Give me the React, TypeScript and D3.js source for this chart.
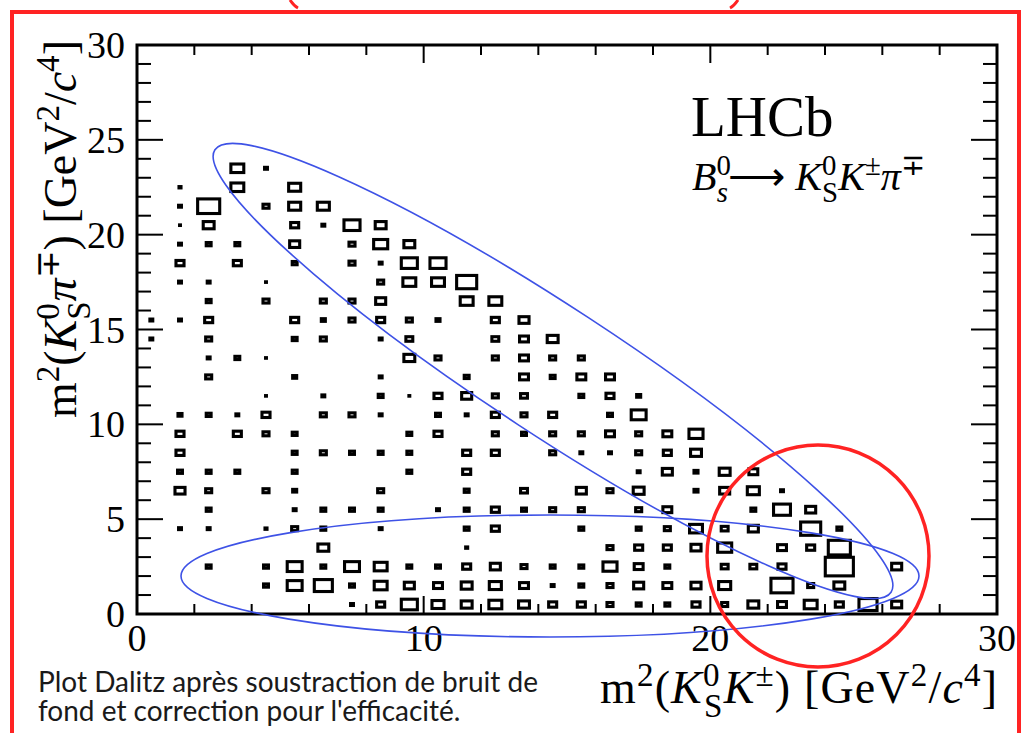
import React from 'react';
import * as d3 from 'd3';

// Dalitz plot bins: [m2(KsK) bin centre, m2(Kspi) bin centre, weighted content]
const dalitzBins: [number, number, number][] = [
  [3.5, 23.5, 45], [4.5, 23.5, 10],
  [1.5, 22.5, 7], [3.5, 22.5, 45], [5.5, 22.5, 42],
  [1.5, 21.5, 10], [2.5, 21.5, 77], [4.5, 21.5, 21], [5.5, 21.5, 42], [6.5, 21.5, 42],
  [1.5, 20.5, 3], [2.5, 20.5, 38], [5.5, 20.5, 28], [6.5, 20.5, 10], [7.5, 20.5, 56], [8.5, 20.5, 38],
  [1.5, 19.5, 10], [2.5, 19.5, 17], [3.5, 19.5, 17], [5.5, 19.5, 35], [7.5, 19.5, 21], [8.5, 19.5, 49], [9.5, 19.5, 38],
  [1.5, 18.5, 28], [3.5, 18.5, 28], [5.5, 18.5, 17], [7.5, 18.5, 21], [8.5, 18.5, 10], [9.5, 18.5, 56], [10.5, 18.5, 56],
  [1.5, 17.5, 10], [2.5, 17.5, 10], [4.5, 17.5, 3], [8.5, 17.5, 21], [9.5, 17.5, 45], [10.5, 17.5, 45], [11.5, 17.5, 70],
  [2.5, 16.5, 17], [4.5, 16.5, 21], [6.5, 16.5, 21], [7.5, 16.5, 21], [8.5, 16.5, 35], [11.5, 16.5, 45], [12.5, 16.5, 45],
  [0.5, 15.5, 10], [1.5, 15.5, 10], [2.5, 15.5, 28], [5.5, 15.5, 28], [6.5, 15.5, 14], [7.5, 15.5, 21], [8.5, 15.5, 28],
  [9.5, 15.5, 21], [10.5, 15.5, 14], [12.5, 15.5, 28], [13.5, 15.5, 35],
  [0.5, 14.5, 10], [2.5, 14.5, 21], [5.5, 14.5, 17], [6.5, 14.5, 21], [8.5, 14.5, 10], [9.5, 14.5, 24], [12.5, 14.5, 24],
  [13.5, 14.5, 31], [14.5, 14.5, 38],
  [2.5, 13.5, 10], [3.5, 13.5, 17], [4.5, 13.5, 3], [9.5, 13.5, 38], [10.5, 13.5, 21], [12.5, 13.5, 21], [13.5, 13.5, 31],
  [14.5, 13.5, 21], [15.5, 13.5, 21],
  [2.5, 12.5, 21], [5.5, 12.5, 14], [8.5, 12.5, 10], [11.5, 12.5, 17], [13.5, 12.5, 31], [14.5, 12.5, 17], [15.5, 12.5, 31],
  [16.5, 12.5, 31],
  [4.5, 11.5, 3], [6.5, 11.5, 10], [8.5, 11.5, 17], [9.5, 11.5, 3], [10.5, 11.5, 28], [11.5, 11.5, 35], [12.5, 11.5, 21],
  [13.5, 11.5, 24], [15.5, 11.5, 17], [16.5, 11.5, 28], [17.5, 11.5, 14],
  [1.5, 10.5, 14], [2.5, 10.5, 17], [3.5, 10.5, 10], [4.5, 10.5, 28], [6.5, 10.5, 21], [7.5, 10.5, 21], [8.5, 10.5, 10],
  [10.5, 10.5, 17], [11.5, 10.5, 10], [12.5, 10.5, 28], [13.5, 10.5, 21], [14.5, 10.5, 28], [16.5, 10.5, 17], [17.5, 10.5, 52],
  [1.5, 9.5, 28], [3.5, 9.5, 28], [4.5, 9.5, 21], [5.5, 9.5, 17], [9.5, 9.5, 17], [10.5, 9.5, 28], [12.5, 9.5, 21],
  [13.5, 9.5, 17], [14.5, 9.5, 21], [15.5, 9.5, 21], [16.5, 9.5, 31], [17.5, 9.5, 21], [18.5, 9.5, 31], [19.5, 9.5, 49],
  [1.5, 8.5, 28], [5.5, 8.5, 17], [6.5, 8.5, 21], [7.5, 8.5, 17], [8.5, 8.5, 17], [9.5, 8.5, 17], [11.5, 8.5, 28],
  [12.5, 8.5, 28], [14.5, 8.5, 21], [15.5, 8.5, 10], [16.5, 8.5, 10], [17.5, 8.5, 21], [18.5, 8.5, 28], [19.5, 8.5, 38],
  [1.5, 7.5, 17], [2.5, 7.5, 17], [3.5, 7.5, 17], [5.5, 7.5, 17], [9.5, 7.5, 17], [11.5, 7.5, 28], [17.5, 7.5, 10],
  [18.5, 7.5, 35], [19.5, 7.5, 14], [20.5, 7.5, 38], [21.5, 7.5, 31],
  [1.5, 6.5, 35], [2.5, 6.5, 21], [4.5, 6.5, 21], [5.5, 6.5, 14], [8.5, 6.5, 21], [11.5, 6.5, 17], [13.5, 6.5, 24],
  [15.5, 6.5, 35], [16.5, 6.5, 21], [17.5, 6.5, 38], [19.5, 6.5, 14], [20.5, 6.5, 35], [21.5, 6.5, 42], [22.5, 6.5, 10],
  [2.5, 5.5, 17], [5.5, 5.5, 10], [6.5, 5.5, 17], [7.5, 5.5, 17], [8.5, 5.5, 17], [10.5, 5.5, 10], [11.5, 5.5, 17],
  [12.5, 5.5, 28], [13.5, 5.5, 17], [14.5, 5.5, 21], [15.5, 5.5, 21], [17.5, 5.5, 21], [18.5, 5.5, 31], [21.5, 5.5, 17],
  [22.5, 5.5, 59], [23.5, 5.5, 35],
  [1.5, 4.5, 10], [2.5, 4.5, 10], [4.5, 4.5, 7], [5.5, 4.5, 21], [6.5, 4.5, 17], [8.5, 4.5, 10], [11.5, 4.5, 17],
  [12.5, 4.5, 28], [15.5, 4.5, 17], [17.5, 4.5, 17], [18.5, 4.5, 21], [19.5, 4.5, 45], [20.5, 4.5, 24], [21.5, 4.5, 35],
  [23.5, 4.5, 70], [24.5, 4.5, 17],
  [6.5, 3.5, 38], [11.5, 3.5, 7], [16.5, 3.5, 21], [17.5, 3.5, 28], [18.5, 3.5, 28], [19.5, 3.5, 35], [20.5, 3.5, 49],
  [22.5, 3.5, 31], [23.5, 3.5, 28], [24.5, 3.5, 77],
  [2.5, 2.5, 17], [4.5, 2.5, 17], [5.5, 2.5, 52], [6.5, 2.5, 17], [7.5, 2.5, 52], [8.5, 2.5, 45], [9.5, 2.5, 17],
  [10.5, 2.5, 17], [11.5, 2.5, 28], [12.5, 2.5, 35], [13.5, 2.5, 21], [14.5, 2.5, 17], [15.5, 2.5, 17], [16.5, 2.5, 49],
  [17.5, 2.5, 31], [18.5, 2.5, 17], [20.5, 2.5, 24], [21.5, 2.5, 24], [22.5, 2.5, 28], [24.5, 2.5, 98], [26.5, 2.5, 35],
  [4.5, 1.5, 17], [5.5, 1.5, 52], [6.5, 1.5, 63], [7.5, 1.5, 17], [8.5, 1.5, 45], [9.5, 1.5, 35], [10.5, 1.5, 31],
  [11.5, 1.5, 38], [12.5, 1.5, 42], [13.5, 1.5, 31], [14.5, 1.5, 10], [15.5, 1.5, 17], [16.5, 1.5, 21], [17.5, 1.5, 35],
  [18.5, 1.5, 31], [19.5, 1.5, 35], [20.5, 1.5, 42], [22.5, 1.5, 77], [23.5, 1.5, 21], [24.5, 1.5, 38],
  [7.5, 0.5, 10], [8.5, 0.5, 28], [9.5, 0.5, 56], [10.5, 0.5, 42], [11.5, 0.5, 38], [12.5, 0.5, 45], [13.5, 0.5, 38],
  [14.5, 0.5, 28], [15.5, 0.5, 28], [16.5, 0.5, 21], [17.5, 0.5, 17], [18.5, 0.5, 17], [19.5, 0.5, 28], [20.5, 0.5, 21],
  [21.5, 0.5, 38], [22.5, 0.5, 31], [23.5, 0.5, 45], [24.5, 0.5, 28], [25.5, 0.5, 63], [26.5, 0.5, 35],
];

const xTickLabels = [0, 10, 20, 30];
const yTickLabels = [0, 5, 10, 15, 20, 25, 30];
const binWidth = 1; // GeV^2/c^4, both axes
const contentMax = 100;

const captionLines = [
  'Plot Dalitz après soustraction de bruit de',
  "fond et correction pour l'efficacité.",
];

type Seg = { t: string; k?: 'n' | 'sup' | 'sub' | 'stack'; it?: boolean; t2?: string; it2?: boolean; w?: number };

const xTitle: Seg[] = [
  { t: 'm' }, { t: '2', k: 'sup' }, { t: '(' }, { t: 'K', it: true },
  { t: '0', k: 'stack', t2: 'S', w: 0.5 }, { t: 'K', it: true }, { t: '±', k: 'sup' },
  { t: ') [GeV' }, { t: '2', k: 'sup' }, { t: '/' }, { t: 'c', it: true }, { t: '4', k: 'sup' }, { t: ']' },
];
const yTitle: Seg[] = [
  { t: 'm' }, { t: '2', k: 'sup' }, { t: '(' }, { t: 'K', it: true },
  { t: '0', k: 'stack', t2: 'S', w: 0.5 }, { t: 'π', it: true }, { t: '∓', k: 'sup' },
  { t: ') [GeV' }, { t: '2', k: 'sup' }, { t: '/' }, { t: 'c', it: true }, { t: '4', k: 'sup' }, { t: ']' },
];
const decayLabel: Seg[] = [
  { t: 'B', it: true }, { t: '0', k: 'stack', t2: 's', it2: true, w: 0.5 }, { t: '⟶ ' },
  { t: 'K', it: true }, { t: '0', k: 'stack', t2: 'S', w: 0.5 }, { t: 'K', it: true }, { t: '±', k: 'sup' },
  { t: 'π', it: true }, { t: '∓', k: 'sup' },
];

function segSpans(segs: Seg[], F: number) {
  const out: React.ReactNode[] = [];
  let shift = 0;
  const up = -0.38 * F;
  const down = 0.3 * F;
  const ss = 0.72 * F;
  segs.forEach((g, i) => {
    const kind = g.k || 'n';
    if (kind === 'n') {
      out.push(<tspan key={i} dy={-shift} fontSize={F} fontStyle={g.it ? 'italic' : 'normal'}>{g.t}</tspan>);
      shift = 0;
    } else if (kind === 'sup') {
      out.push(<tspan key={i} dy={up - shift} fontSize={ss} fontStyle={g.it ? 'italic' : 'normal'}>{g.t}</tspan>);
      shift = up;
    } else if (kind === 'sub') {
      out.push(<tspan key={i} dy={down - shift} fontSize={ss} fontStyle={g.it ? 'italic' : 'normal'}>{g.t}</tspan>);
      shift = down;
    } else {
      out.push(<tspan key={i + 'a'} dy={up - shift} fontSize={ss}>{g.t}</tspan>);
      out.push(
        <tspan key={i + 'b'} dx={-(g.w || 0.5) * ss} dy={down - up} fontSize={ss} fontStyle={g.it2 ? 'italic' : 'normal'}>
          {g.t2}
        </tspan>
      );
      shift = down;
    }
  });
  return out;
}

const W = 1024;
const H = 733;
const frame = { left: 137, right: 997, top: 45, bottom: 614 };
const serif = '"Liberation Serif", "Times New Roman", serif';

export default function App() {
  const x = d3.scaleLinear().domain([0, 30]).range([frame.left, frame.right]);
  const y = d3.scaleLinear().domain([0, 30]).range([frame.bottom, frame.top]);
  const size = d3.scaleLinear().domain([0, contentMax]).range([0, 1]);
  const bw = x(binWidth) - x(0);
  const bh = y(0) - y(binWidth);

  const xMinor = d3.range(0, 31, 2);
  const yMinor = d3.range(0, 31, 1);

  const red = '#ff2323';
  const blue = '#3e52e6';

  return (
    <svg width={W} height={H} style={{ position: 'absolute', left: 0, top: 0, background: '#fff' }}>
      <rect x={0} y={0} width={W} height={H} fill="#fff" />

      {/* bin boxes */}
      <g stroke="#000" strokeWidth={3.1} fill="none">
        {dalitzBins.map(([cx, cy, v], i) => {
          const w = size(v) * bw;
          const h = size(v) * bh;
          return <rect key={i} x={x(cx) - w / 2} y={y(cy) - h / 2} width={w} height={h} />;
        })}
      </g>

      {/* frame and ticks */}
      <g stroke="#000" fill="none">
        <rect x={frame.left} y={frame.top} width={frame.right - frame.left} height={frame.bottom - frame.top} strokeWidth={3} />
        {xMinor.map((v) => {
          const len = v % 10 === 0 ? 18 : 10;
          return (
            <g key={'xt' + v} strokeWidth={2}>
              <line x1={x(v)} x2={x(v)} y1={frame.bottom} y2={frame.bottom - len} />
              <line x1={x(v)} x2={x(v)} y1={frame.top} y2={frame.top + len} />
            </g>
          );
        })}
        {yMinor.map((v) => {
          const len = v % 5 === 0 ? 26 : 14;
          return (
            <g key={'yt' + v} strokeWidth={2}>
              <line x1={frame.left} x2={frame.left + len} y1={y(v)} y2={y(v)} />
              <line x1={frame.right} x2={frame.right - len} y1={y(v)} y2={y(v)} />
            </g>
          );
        })}
      </g>

      {/* tick labels */}
      <g fontFamily={serif} fontSize={38} fill="#000">
        {xTickLabels.map((v) => (
          <text key={'xl' + v} x={x(v)} y={frame.bottom + 37} textAnchor="middle">{v}</text>
        ))}
        {yTickLabels.map((v) => (
          <text key={'yl' + v} x={frame.left - 12} y={y(v) + 13} textAnchor="end">{v}</text>
        ))}
      </g>

      {/* axis titles */}
      <text x={600} y={703} fontFamily={serif} fontSize={46} textLength={397} lengthAdjust="spacing">
        {segSpans(xTitle, 46)}
      </text>
      <text transform={`translate(76, 418) rotate(-90)`} fontFamily={serif} fontSize={46} textLength={378} lengthAdjust="spacing">
        {segSpans(yTitle, 46)}
      </text>

      {/* experiment and decay labels */}
      <text x={691} y={136} fontFamily={serif} fontSize={57}>LHCb</text>
      <text x={692} y={190} fontFamily={serif} fontSize={40} textLength={233} lengthAdjust="spacing">
        {segSpans(decayLabel, 40)}
      </text>

      {/* highlighted regions */}
      <g fill="none" stroke={blue} strokeWidth={1.6}>
        <ellipse cx={553} cy={371} rx={404} ry={64} transform="rotate(33.2 553 371)" />
        <ellipse cx={550} cy={576} rx={369} ry={61} />
      </g>
      <circle cx={818} cy={556} r={111} fill="none" stroke={red} strokeWidth={3.5} />

      {/* caption */}
      <g fontFamily="Lato, 'Open Sans', sans-serif" fontSize={28} fill="#1a1a1a">
        {captionLines.map((l, i) => (
          <text key={i} x={38} y={692 + i * 29}>{l}</text>
        ))}
      </g>

      {/* outer red border */}
      <rect x={12} y={12} width={1007} height={740} fill="none" stroke={red} strokeWidth={4} />
      <path d="M290,0 Q294,6 298,8" fill="none" stroke={red} strokeWidth={3} />
      <path d="M738,0 Q734,6 730,8" fill="none" stroke={red} strokeWidth={3} />
    </svg>
  );
}
